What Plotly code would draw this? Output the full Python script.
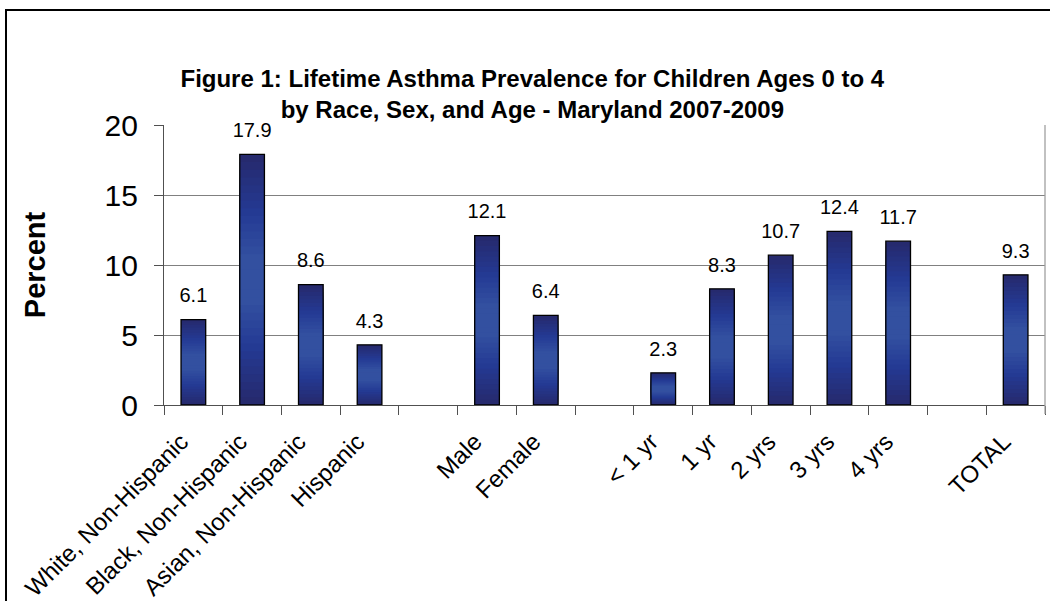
import plotly.graph_objects as go
import numpy as np

# ---- data ----
race_labels = ["White, Non-Hispanic", "Black, Non-Hispanic", "Asian, Non-Hispanic", "Hispanic"]
race_values = [6.1, 17.9, 8.6, 4.3]
sex_labels = ["Male", "Female"]
sex_values = [12.1, 6.4]
age_labels = ["< 1 yr", "1 yr", "2 yrs", "3 yrs", "4 yrs"]
age_values = [2.3, 8.3, 10.7, 12.4, 11.7]
total_labels = ["TOTAL"]
total_values = [9.3]
y_ticks = [0, 5, 10, 15, 20]

# build category sequence with blank gap slots between groups
groups = [(race_labels, race_values), (sex_labels, sex_values),
          (age_labels, age_values), (total_labels, total_values)]
categories, values = [], []
for gi, (labs, vals) in enumerate(groups):
    if gi > 0:
        categories.append(" " * gi)
        values.append(None)
    categories += labs
    values += vals

xs = [c for c, v in zip(categories, values) if v is not None]
vs = [v for v in values if v is not None]

FONT = "Liberation Sans, Arial, sans-serif"
BAR_W = 0.42

def hex2rgb(h):
    h = h.lstrip('#')
    return np.array([int(h[i:i+2], 16) for i in (0, 2, 4)], dtype=float)

stops = [(0.0, "#262a6e"), (0.22, "#243a94"), (0.40, "#3350a0"), (0.5, "#3350a0")]

def color_at(a):
    for (a0, c0), (a1, c1) in zip(stops[:-1], stops[1:]):
        if a0 <= a <= a1:
            t = 0 if a1 == a0 else (a - a0) / (a1 - a0)
            c = hex2rgb(c0) * (1 - t) + hex2rgb(c1) * t
            return "rgb(%d,%d,%d)" % tuple(np.round(c))
    return stops[-1][1]

fig = go.Figure()

# nested bars for a vertical gradient (dark edges, light middle)
levels = np.linspace(0, 0.46, 16)
for a in levels:
    fig.add_trace(go.Bar(
        x=xs, y=[v * (1 - 2 * a) for v in vs], base=[v * a for v in vs],
        width=BAR_W, marker=dict(color=color_at(a), line=dict(width=0)),
        hoverinfo="skip", showlegend=False))

# outline
fig.add_trace(go.Bar(
    x=xs, y=vs, width=BAR_W,
    marker=dict(color="rgba(0,0,0,0)", line=dict(color="black", width=1.3)),
    showlegend=False, hovertemplate="%{x}: %{y}<extra></extra>"))

# data labels
fig.add_trace(go.Scatter(
    x=xs, y=vs, mode="markers+text",
    marker=dict(size=18, opacity=0),
    text=["%.1f" % v for v in vs], textposition="top center",
    textfont=dict(family=FONT, size=20, color="black"),
    showlegend=False, hoverinfo="skip", cliponaxis=False))

fig.update_layout(
    width=1050, height=601,
    margin=dict(l=164, r=5, t=125, b=196, autoexpand=False),
    paper_bgcolor="white", plot_bgcolor="white",
    barmode="overlay",
    font=dict(family=FONT, color="black"),
    title=dict(
        text="<b>Figure 1: Lifetime Asthma Prevalence for Children Ages 0 to 4<br>by Race, Sex, and Age - Maryland 2007-2009</b>",
        font=dict(family=FONT, size=24, color="black"),
        x=0.507, xanchor="center", y=0.855, yanchor="top"),
    xaxis=dict(
        type="category", categoryorder="array", categoryarray=categories,
        tickmode="array", tickvals=categories, ticktext=categories,
        tickson="boundaries", ticks="outside", ticklen=9, tickcolor="#505050",
        showline=True, linecolor="#505050", linewidth=1.3,
        showgrid=False, tickangle=-45, automargin=False,
        ticklabelshift=-12, ticklabelstandoff=12,
        tickfont=dict(family=FONT, size=24, color="black"),
        range=[-0.5, len(categories) - 0.5]),
    yaxis=dict(
        range=[0, 20], tickvals=y_ticks, ticks="outside", ticklen=9,
        tickcolor="#505050", showline=True, linecolor="#505050", linewidth=1.3,
        showgrid=True, gridcolor="#808080", gridwidth=1,
        tickfont=dict(family=FONT, size=30, color="black"),
        ticklabelstandoff=10, zeroline=False, automargin=False,
        title=dict(text="<b>Percent</b>", font=dict(family=FONT, size=29, color="black"),
                   standoff=50)),
    shapes=[
        dict(type="line", xref="paper", yref="paper", x0=1, x1=1, y0=-9 / 280, y1=1,
             line=dict(color="#a0a0a0", width=1.3)),
        dict(type="rect", xref="paper", yref="paper",
             x0=(6 - 164) / 881, x1=(1070 - 164) / 881,
             y0=(405 - 640) / 280, y1=(405 - 10) / 280,
             line=dict(color="black", width=2), fillcolor="rgba(0,0,0,0)"),
    ],
)

fig.write_html("out.html", config={"displayModeBar": False},
               post_script="document.body.style.margin='0';document.body.style.overflow='hidden';")
